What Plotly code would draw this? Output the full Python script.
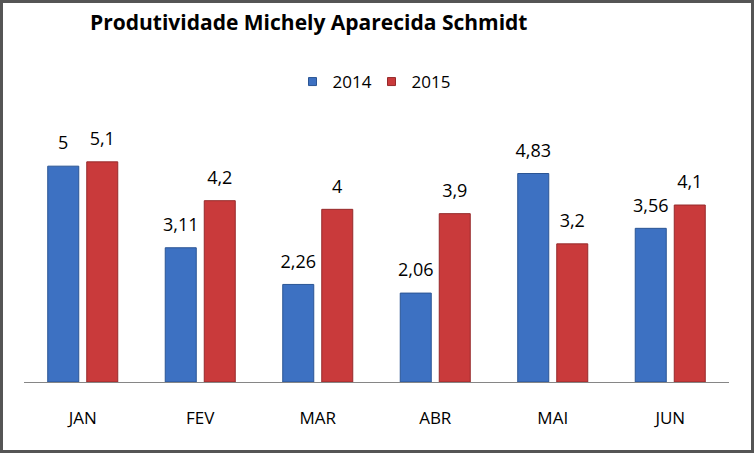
import plotly.graph_objects as go

categories = ["JAN", "FEV", "MAR", "ABR", "MAI", "JUN"]
values_2014 = [5, 3.11, 2.26, 2.06, 4.83, 3.56]
values_2015 = [5.1, 4.2, 4, 3.9, 3.2, 4.1]
labels_2014 = ["5", "3,11", "2,26", "2,06", "4,83", "3,56"]
labels_2015 = ["5,1", "4,2", "4", "3,9", "3,2", "4,1"]

W, H = 754, 453
ML, MR, MT, MB = 24, 25, 123, 71
PW, PH = W - ML - MR, H - MT - MB

FONT = "Open Sans"

fig = go.Figure()
series = [
    ("2014", values_2014, labels_2014, "#3d71c2", "#2b5594"),
    ("2015", values_2015, labels_2015, "#c93a3b", "#962a2b"),
]
for name, vals, labs, col, edge in series:
    fig.add_trace(go.Bar(
        name=name, x=categories, y=vals, offsetgroup=name, showlegend=False,
        marker=dict(color=col, line=dict(color=edge, width=1)),
    ))
for name, vals, labs, col, edge in series:
    fig.add_trace(go.Scatter(
        x=categories, y=vals, text=labs, mode="markers+text", offsetgroup=name,
        textposition="top center", showlegend=False, hoverinfo="skip",
        marker=dict(size=18, opacity=0),
        textfont=dict(size=18, color="#000000", family=FONT), cliponaxis=False,
    ))
# legend entries
for name, vals, labs, col, edge in series:
    fig.add_trace(go.Scatter(
        x=[None], y=[None], name=name, mode="markers",
        marker=dict(symbol="square", size=8, color=col, line=dict(color=edge, width=1)),
    ))

def px(x):
    return (x - ML) / PW

def py(y):
    return (H - MB - y) / PH

fig.update_layout(
    width=W, height=H,
    margin=dict(l=ML, r=MR, t=MT, b=MB, pad=0),
    paper_bgcolor="white", plot_bgcolor="white",
    barmode="group", scattermode="group", bargap=0.336, bargroupgap=0.205,
    font=dict(family=FONT, color="#000000"),
    title=dict(text="<b>Produtividade Michely Aparecida Schmidt</b>",
               x=90 / W, xanchor="left", y=1 - 23 / H, yanchor="middle",
               xref="container", yref="container",
               font=dict(size=21, family=FONT, color="#000000")),
    legend=dict(orientation="h", x=0.5 - 5 / PW, xanchor="center", y=py(82), yanchor="middle",
                font=dict(size=17, family=FONT), itemwidth=30, traceorder="normal",
                entrywidth=34, entrywidthmode="pixels"),
    xaxis=dict(showline=True, linecolor="#868686", linewidth=1, ticks="",
               tickfont=dict(size=17, family=FONT, color="#000000"),
               range=[-0.5, 5.5], fixedrange=True, ticklabelstandoff=21),
    yaxis=dict(range=[0, 6], showgrid=False, showticklabels=False, zeroline=False,
               showline=False, fixedrange=True),
    shapes=[dict(type="rect", xref="paper", yref="paper",
                 x0=px(1.5), x1=px(W - 1.5), y0=py(H - 1.5), y1=py(1.5),
                 line=dict(color="#555555", width=3), fillcolor="rgba(0,0,0,0)", layer="above")],
)

fig.write_html("out.html", config={"displayModeBar": False},
               post_script="document.body.style.margin='0';document.body.style.overflow='hidden';")
